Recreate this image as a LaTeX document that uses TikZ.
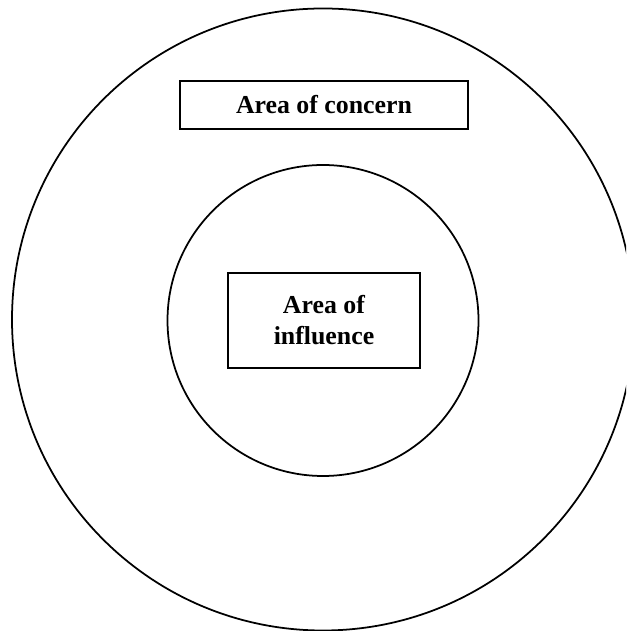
\documentclass[tikz,border=0pt]{standalone}
\usepackage{fontspec}
\setmainfont{Liberation Serif}
\tikzset{
  ring/.style={draw=black,line width=1pt},
  areabox/.style={draw=black,line width=1pt,inner sep=0pt,align=center,
    font=\fontsize{14.7}{17.6}\selectfont\bfseries}
}
\begin{document}
\begin{tikzpicture}[x=1cm,y=1cm]
  \useasboundingbox (0,0) rectangle (12.52,12.62);
  \clip (0,0) rectangle (12.52,12.62);
  \node[ring,circle,minimum size=12.44cm,inner sep=0pt] (outer) at (6.46,6.23) {};
  \node[ring,circle,minimum size=6.22cm,inner sep=0pt] (inner) at (6.46,6.21) {};
  \node[areabox,minimum width=5.76cm,minimum height=0.96cm] (concern) at (6.48,10.52) {Area of concern};
  \node[areabox,minimum width=3.84cm,minimum height=1.9cm] (influence) at (6.48,6.21) {Area of\\influence};
\end{tikzpicture}
\end{document}
